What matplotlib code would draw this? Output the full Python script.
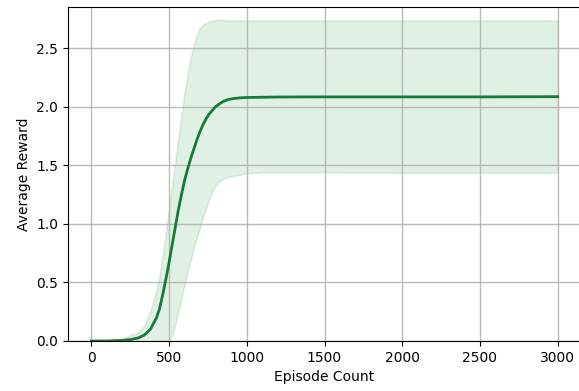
import numpy as np
import matplotlib.pyplot as plt

# ── Data ──────────────────────────────────────────────────────────────
episodes = [0, 100, 200, 250, 300, 340, 380, 420, 440, 460, 480, 500, 520,
            540, 560, 580, 600, 620, 640, 660, 680, 700, 720, 740, 760, 780,
            800, 820, 850, 880, 920, 960, 1000, 1100, 1200, 1500, 2000, 2500,
            3000]
mean_reward = [0.0, 0.0, 0.005, 0.012, 0.025, 0.05, 0.10, 0.20, 0.28, 0.40,
               0.53, 0.67, 0.82, 0.97, 1.12, 1.25, 1.37, 1.47, 1.56, 1.64,
               1.72, 1.79, 1.85, 1.90, 1.94, 1.97, 2.00, 2.02, 2.045, 2.06,
               2.07, 2.075, 2.078, 2.08, 2.082, 2.083, 2.083, 2.083, 2.085]
upper_reward = [0.0, 0.0, 0.02, 0.05, 0.07, 0.13, 0.26, 0.44, 0.56, 0.74,
                0.93, 1.13, 1.33, 1.53, 1.73, 1.93, 2.12, 2.28, 2.42, 2.53,
                2.62, 2.67, 2.70, 2.715, 2.725, 2.735, 2.74, 2.74, 2.74, 2.735,
                2.735, 2.735, 2.735, 2.735, 2.735, 2.735, 2.735, 2.735, 2.735]
lower_reward = [0.0, 0.0, -0.01, -0.03, -0.05, -0.08, -0.10, -0.10, -0.09,
                -0.07, -0.05, -0.01, 0.05, 0.14, 0.25, 0.36, 0.48, 0.59, 0.69,
                0.80, 0.89, 0.97, 1.06, 1.14, 1.22, 1.28, 1.33, 1.36, 1.385,
                1.40, 1.41, 1.42, 1.43, 1.44, 1.44, 1.44, 1.435, 1.435, 1.435]

# ── Figure ────────────────────────────────────────────────────────────
fig = plt.figure(figsize=(5.79, 3.91), dpi=100)
ax = fig.add_axes([68 / 579, 50 / 391, 513 / 579, 334 / 391])

line_color = "#177a38"
ax.fill_between(episodes, lower_reward, upper_reward, color="#2e9a46",
                alpha=0.14, linewidth=1.2)
ax.plot(episodes, mean_reward, color=line_color, linewidth=2.0)

ax.set_xlim(-150, 3150)
ax.set_ylim(0, 2.85)
ax.set_xticks([0, 500, 1000, 1500, 2000, 2500, 3000])
ax.set_yticks([0.0, 0.5, 1.0, 1.5, 2.0, 2.5])
ax.set_xlabel("Episode Count", fontsize=10)
ax.set_ylabel("Average Reward", fontsize=10)
ax.grid(True, color="#b0b0b0", linewidth=1.0, alpha=0.85)
ax.spines["right"].set_visible(False)

fig.savefig("out.png", dpi=100)
